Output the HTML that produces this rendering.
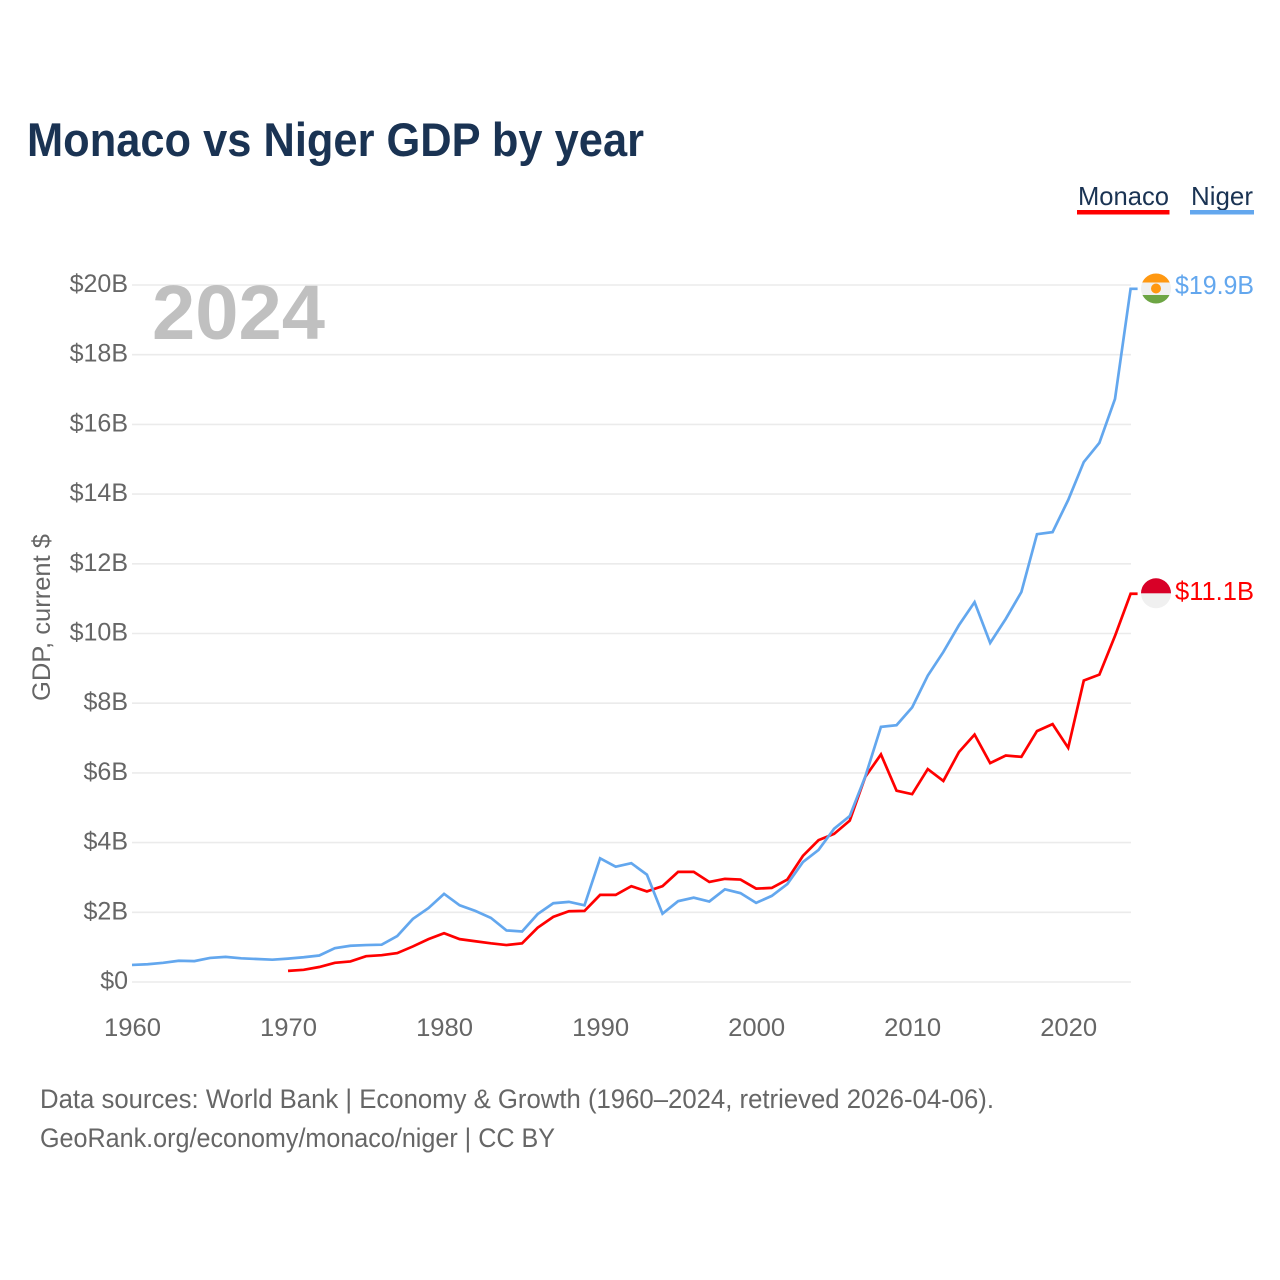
<!DOCTYPE html>
<html lang="en">
<head>
<meta charset="utf-8">
<title>Monaco vs Niger GDP by year</title>
<style>
html,body{margin:0;padding:0;background:#fff;width:1280px;height:1280px;overflow:hidden}
svg{display:block;font-family:"Liberation Sans",sans-serif}
</style>
</head>
<body>
<svg id="chart" xmlns="http://www.w3.org/2000/svg" width="1280" height="1280" viewBox="0 0 1280 1280">
  <rect x="0" y="0" width="1280" height="1280" fill="#ffffff"/>
  <text x="27" y="156" font-size="47" font-weight="700" fill="#1a3353" textLength="617" lengthAdjust="spacingAndGlyphs">Monaco vs Niger GDP by year</text>
  <g id="grid"></g>
  <g id="yticks"></g>
  <g id="xticks"></g>
  <text transform="translate(50,617.5) rotate(-90)" text-anchor="middle" font-size="25" fill="#666666" textLength="167" lengthAdjust="spacingAndGlyphs">GDP, current $</text>
  <text x="152" y="339" font-size="77" font-weight="700" fill="#c0c0c0" textLength="173" lengthAdjust="spacingAndGlyphs">2024</text>
  <g id="series"></g>

  <g>
    <text x="1078" y="205" font-size="26" fill="#1a3353" textLength="91" lengthAdjust="spacingAndGlyphs">Monaco</text>
    <rect x="1077" y="210" width="92.5" height="4.5" fill="#ff0000"/>
  </g>
  <g>
    <text x="1191" y="205" font-size="26" fill="#1a3353" textLength="62" lengthAdjust="spacingAndGlyphs">Niger</text>
    <rect x="1190" y="210" width="64" height="4.5" fill="#63a7ee"/>
  </g>

  <defs>
    <clipPath id="clip-niger"><circle cx="1156" cy="288.5" r="15"/></clipPath>
    <clipPath id="clip-monaco"><circle cx="1156" cy="593.3" r="15"/></clipPath>
  </defs>
  <g clip-path="url(#clip-niger)">
    <rect x="1141" y="273" width="30" height="31" fill="#f0f0f0"/>
    <rect x="1141" y="273" width="30" height="9.5" fill="#ff9811"/>
    <rect x="1141" y="295" width="30" height="9" fill="#6da544"/>
    <circle cx="1156" cy="288.5" r="5" fill="#ff9811"/>
  </g>
  <g clip-path="url(#clip-monaco)">
    <rect x="1141" y="578" width="30" height="31" fill="#f0f0f0"/>
    <rect x="1141" y="578" width="30" height="15.3" fill="#d80027"/>
  </g>
  <text id="label-niger" x="1175" y="294" font-size="25.5" fill="#63a7ee" textLength="79" lengthAdjust="spacingAndGlyphs"></text>
  <text id="label-monaco" x="1175" y="600" font-size="25.5" fill="#ff0000" textLength="79" lengthAdjust="spacingAndGlyphs"></text>

  <text x="40" y="1108" font-size="26.5" fill="#666666" textLength="954" lengthAdjust="spacingAndGlyphs">Data sources: World Bank | Economy &amp; Growth (1960–2024, retrieved 2026-04-06).</text>
  <text x="40" y="1147" font-size="26.5" fill="#666666" textLength="515" lengthAdjust="spacingAndGlyphs">GeoRank.org/economy/monaco/niger | CC BY</text>
</svg>
<script>
const firstYear = 1960;
const lastYear = 2024;
const xTickYears = [1960, 1970, 1980, 1990, 2000, 2010, 2020];
const yTickValues = [0, 2, 4, 6, 8, 10, 12, 14, 16, 18, 20];
const yTickLabels = ["$0", "$2B", "$4B", "$6B", "$8B", "$10B", "$12B", "$14B", "$16B", "$18B", "$20B"];
const monacoStartYear = 1970;
const nigerStartYear = 1960;
const monacoValues = [0.32,0.35,0.43,0.55,0.59,0.74,0.77,0.83,1.02,1.23,1.40,1.23,1.17,1.11,1.06,1.11,1.56,1.87,2.03,2.04,2.50,2.50,2.75,2.60,2.75,3.16,3.16,2.87,2.96,2.94,2.68,2.70,2.94,3.62,4.07,4.25,4.63,5.89,6.53,5.49,5.39,6.11,5.77,6.60,7.10,6.28,6.50,6.46,7.20,7.40,6.72,8.65,8.82,9.93,11.14];
const nigerValues = [0.49,0.51,0.55,0.61,0.60,0.69,0.72,0.68,0.66,0.64,0.67,0.71,0.76,0.97,1.04,1.06,1.07,1.32,1.81,2.12,2.53,2.20,2.04,1.84,1.48,1.45,1.95,2.26,2.30,2.20,3.55,3.31,3.41,3.08,1.96,2.32,2.42,2.31,2.66,2.55,2.27,2.47,2.81,3.44,3.79,4.40,4.76,5.90,7.32,7.37,7.88,8.79,9.47,10.24,10.90,9.73,10.42,11.19,12.85,12.91,13.83,14.92,15.47,16.73,19.89];
const monacoLabel = "$11.1B";
const nigerLabel = "$19.9B";

const NS = "http://www.w3.org/2000/svg";
const xAt = function (year) { return 132 + (year - firstYear) * (1130.6 - 132) / (lastYear - firstYear); };
const yAt = function (v) { return 982 - v * 34.85; };

function make(tag, parent, attrs, text) {
  const el = document.createElementNS(NS, tag);
  Object.keys(attrs).forEach(function (k) { el.setAttribute(k, attrs[k]); });
  if (text !== undefined) el.textContent = text;
  parent.appendChild(el);
  return el;
}

const grid = document.getElementById("grid");
const yticks = document.getElementById("yticks");
const xticks = document.getElementById("xticks");
const series = document.getElementById("series");

yTickValues.forEach(function (v, i) {
  const line = make("line", grid, { x1: 132, x2: 1131, y1: yAt(v), y2: yAt(v), stroke: "#ebebeb", "stroke-width": 1.6 });
  
  
  const label = make("text", yticks, { x: 128, y: yAt(v) + 7, "text-anchor": "end", "font-size": 25, fill: "#666666" }, yTickLabels[i]);
  
  
});

xTickYears.forEach(function (year) {
  const label = make("text", xticks, { x: xAt(year) + 0.5, y: 1036, "text-anchor": "middle", "font-size": 25, fill: "#666666", textLength: 57, lengthAdjust: "spacingAndGlyphs" }, String(year));
  
  
});

function drawSeries(values, startYear, color) {
  const pts = values.map(function (v, i) { return xAt(startYear + i).toFixed(2) + "," + yAt(v).toFixed(2); });
  const lastValue = values[values.length - 1];
  pts.push((xAt(startYear + values.length - 1) + 7).toFixed(2) + "," + yAt(lastValue).toFixed(2));
  return make("polyline", series, { points: pts.join(" "), fill: "none", stroke: color, "stroke-width": 2.7, "stroke-linejoin": "miter" });
}

const monacoLine = drawSeries(monacoValues, monacoStartYear, "#ff0000");


const nigerLine = drawSeries(nigerValues, nigerStartYear, "#63a7ee");



document.getElementById("label-niger").textContent = nigerLabel;
document.getElementById("label-monaco").textContent = monacoLabel;
</script>
</body>
</html>
